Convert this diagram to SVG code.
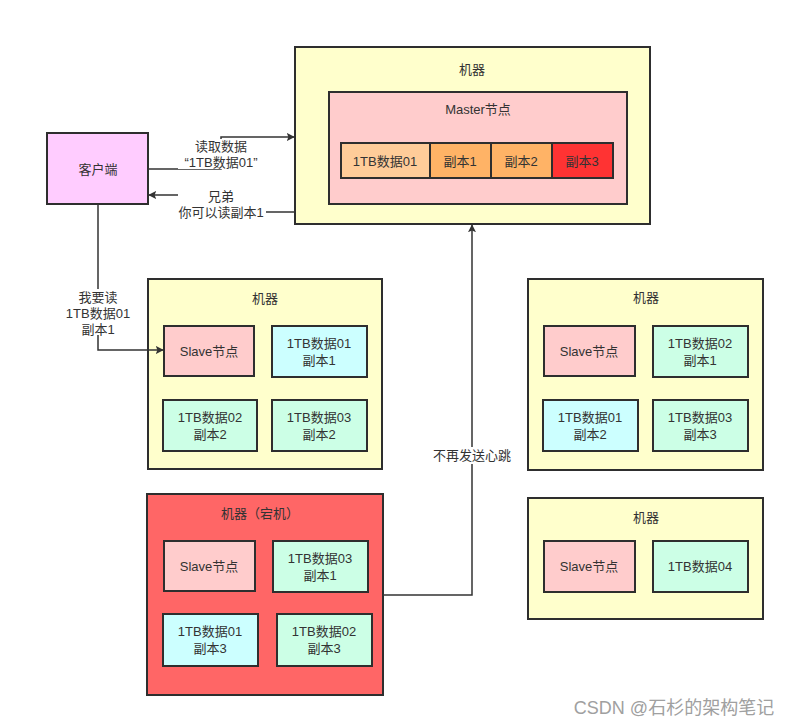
<svg xmlns="http://www.w3.org/2000/svg" width="795" height="727" viewBox="0 0 795 727">
<defs>
<style>
text{font-family:"Liberation Sans","Noto Sans CJK SC",sans-serif;font-size:13px;fill:#333;text-anchor:middle;dominant-baseline:central}
.m{fill:#ffffcc;stroke:#2e2e2e;stroke-width:2}
.b{stroke:#2e2e2e;stroke-width:2}
.pink{fill:#ffcccc}
.cyan{fill:#ccffff}
.green{fill:#ccffe6}
.c{fill:none;stroke:#333;stroke-width:1.5}
.lbl{fill:#fff}
</style>
<marker id="ah" viewBox="0 0 10 10" refX="9" refY="5" markerWidth="8" markerHeight="8" markerUnits="userSpaceOnUse" orient="auto"><path d="M0,0 L10,5 L0,10 L2,5 Z" fill="#333"/></marker>
</defs>
<rect width="795" height="727" fill="#fff"/>

<g id="master-machine">
<rect class="m" x="295" y="47" width="355" height="177"/>
<text x="472" y="69">机器</text>
<rect class="b pink" x="329" y="92" width="298" height="112"/>
<text x="478" y="109">Master节点</text>
<rect class="b" fill="#ffcc99" x="341" y="143" width="89" height="35"/>
<text x="385" y="161">1TB数据01</text>
<rect class="b" fill="#ffb366" x="430" y="143" width="61" height="35"/>
<text x="460" y="161">副本1</text>
<rect class="b" fill="#ffb366" x="491" y="143" width="61" height="35"/>
<text x="521" y="161">副本2</text>
<rect class="b" fill="#ff3333" x="552" y="143" width="61" height="35"/>
<text x="582" y="161">副本3</text>
</g>

<g id="client">
<rect class="b" fill="#ffccff" x="47" y="133" width="101" height="71"/>
<text x="98" y="169">客户端</text>
</g>

<g id="machine-left">
<rect class="m" x="148" y="279" width="234" height="190"/>
<text x="265" y="298">机器</text>
<rect class="b pink" x="164" y="326" width="90" height="50"/>
<text x="209" y="351">Slave节点</text>
<rect class="b cyan" x="272" y="326" width="95" height="51"/>
<text x="319" y="343">1TB数据01</text><text x="319" y="360">副本1</text>
<rect class="b green" x="163" y="400" width="94" height="51"/>
<text x="210" y="417">1TB数据02</text><text x="210" y="434">副本2</text>
<rect class="b green" x="272" y="400" width="95" height="51"/>
<text x="319" y="417">1TB数据03</text><text x="319" y="434">副本2</text>
</g>

<g id="machine-right-1">
<rect class="m" x="528" y="279" width="235" height="191"/>
<text x="646" y="297">机器</text>
<rect class="b pink" x="544" y="326" width="91" height="50"/>
<text x="589" y="351">Slave节点</text>
<rect class="b green" x="653" y="326" width="95" height="51"/>
<text x="700" y="343">1TB数据02</text><text x="700" y="360">副本1</text>
<rect class="b cyan" x="543" y="400" width="95" height="51"/>
<text x="590" y="417">1TB数据01</text><text x="590" y="434">副本2</text>
<rect class="b green" x="653" y="400" width="95" height="51"/>
<text x="700" y="417">1TB数据03</text><text x="700" y="434">副本3</text>
</g>

<g id="machine-right-2">
<rect class="m" x="528" y="498" width="235" height="121"/>
<text x="646" y="517">机器</text>
<rect class="b pink" x="544" y="541" width="91" height="51"/>
<text x="589" y="566">Slave节点</text>
<rect class="b green" x="653" y="541" width="95" height="51"/>
<text x="700" y="566">1TB数据04</text>
</g>

<g id="machine-down">
<rect class="b" fill="#ff6666" x="147" y="494" width="236" height="201"/>
<text x="260" y="513">机器（宕机）</text>
<rect class="b pink" x="164" y="541" width="91" height="50"/>
<text x="209" y="566">Slave节点</text>
<rect class="b green" x="273" y="541" width="95" height="51"/>
<text x="320" y="558">1TB数据03</text><text x="320" y="575">副本1</text>
<rect class="b cyan" x="163" y="614" width="95" height="52"/>
<text x="210" y="631">1TB数据01</text><text x="210" y="648">副本3</text>
<rect class="b green" x="277" y="614" width="95" height="52"/>
<text x="324" y="631">1TB数据02</text><text x="324" y="648">副本3</text>
</g>

<g id="connectors">
<path class="c" d="M148,169 H221 V137 H294" marker-end="url(#ah)"/>
<rect class="lbl" x="178" y="139" width="86" height="30"/>
<text x="221" y="146">读取数据</text>
<text x="221" y="162">“1TB数据01”</text>

<path class="c" d="M295,212 H221 V195 H149" marker-end="url(#ah)"/>
<rect class="lbl" x="178" y="188" width="88" height="32"/>
<text x="221" y="196">兄弟</text>
<text x="221" y="212">你可以读副本1</text>

<path class="c" d="M98,204 V350 H163" marker-end="url(#ah)"/>
<rect class="lbl" x="58" y="289" width="80" height="46"/>
<text x="98" y="297">我要读</text>
<text x="98" y="313">1TB数据01</text>
<text x="98" y="329">副本1</text>

<path class="c" d="M383,595 H472 V225" marker-end="url(#ah)"/>
<rect class="lbl" x="430" y="447" width="84" height="17"/>
<text x="472" y="455">不再发送心跳</text>
</g>

<text x="674" y="708" style="font-size:18px;fill:#a0a0a0">CSDN @石杉的架构笔记</text>
</svg>
